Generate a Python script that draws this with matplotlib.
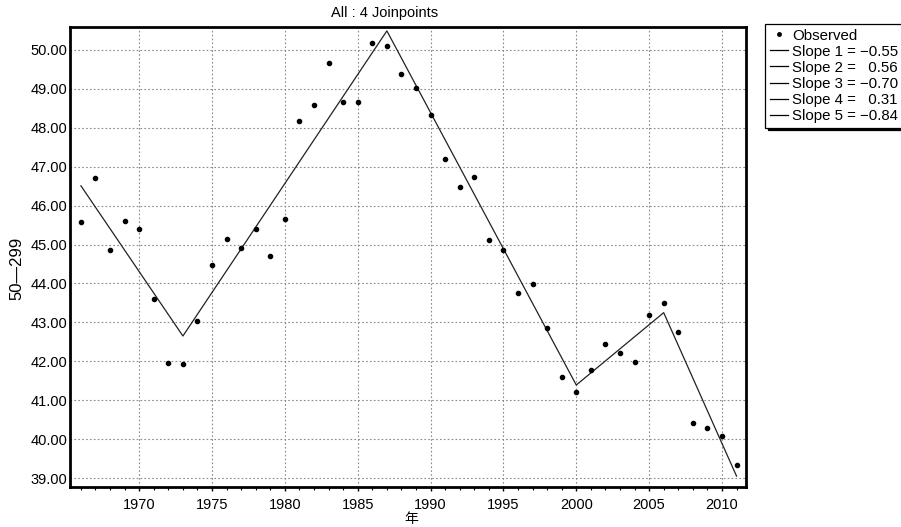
import matplotlib
matplotlib.use("Agg")
import matplotlib.pyplot as plt
from matplotlib.lines import Line2D
from matplotlib.ticker import MultipleLocator, FormatStrFormatter

plt.rcParams['font.family'] = ['Liberation Sans', 'DejaVu Sans']

# Observed values
years = list(range(1966, 2012))
observed = [45.59, 46.70, 44.86, 45.60, 45.40, 43.60, 41.95, 41.92, 43.04, 44.47,
            45.15, 44.90, 45.41, 44.71, 45.65, 48.17, 48.59, 49.66, 48.67, 48.66,
            50.19, 50.11, 49.37, 49.02, 48.33, 47.21, 46.49, 46.73, 45.11, 44.87,
            43.75, 43.98, 42.86, 41.60, 41.20, 41.78, 42.44, 42.22, 41.97, 43.20,
            43.49, 42.74, 40.41, 40.29, 40.09, 39.33]

# Joinpoint model (segment end points)
joint_years = [1966, 1973, 1987, 2000, 2006, 2011]
joint_fit = [46.51, 42.65, 50.49, 41.39, 43.25, 39.05]
slopes = [-0.55, 0.56, -0.70, 0.31, -0.84]

title = "All : 4 Joinpoints"
ylabel = "50\u2014299"
xlabel = "年"
xticks = [1970, 1975, 1980, 1985, 1990, 1995, 2000, 2005, 2010]
yticks = [39, 40, 41, 42, 43, 44, 45, 46, 47, 48, 49, 50]

fig = plt.figure(figsize=(9.01, 5.27), dpi=100)
W, H = 901, 527
ax_l, ax_t, ax_w, ax_h = 70, 27, 676, 460
ax = fig.add_axes([ax_l / W, 1 - (ax_t + ax_h) / H, ax_w / W, ax_h / H])

ax.plot(joint_years, joint_fit, color='#222222', lw=0.9, zorder=3)
ax.plot(years, observed, linestyle='none', marker='o', ms=3.0,
        color='black', zorder=4)

ax.set_xlim(1965.25, 2011.65)
ax.set_ylim(38.77, 50.59)
ax.set_xticks(xticks)
ax.xaxis.set_minor_locator(MultipleLocator(1))
ax.set_yticks(yticks)
ax.yaxis.set_major_formatter(FormatStrFormatter('%.2f'))

ax.grid(True, which='major', color='#8a8a8a', linestyle=(0, (1.5, 2)), lw=0.8)
for s in ax.spines.values():
    s.set_linewidth(2.0)
    s.set_color('black')

ax.tick_params(axis='y', length=0, pad=2, labelsize=10.5)
ax.tick_params(axis='x', which='major', length=3, width=1, pad=5, labelsize=10.5)
ax.tick_params(axis='x', which='minor', length=2.5, width=0.8)

ax.set_ylabel(ylabel, fontsize=12)
ax.yaxis.set_label_coords((17 - ax_l) / ax_w, 1 - (268 - ax_t) / ax_h)
ax.set_xlabel(xlabel, fontsize=10, family=['Noto Sans CJK SC', 'DejaVu Sans'])
ax.xaxis.set_label_coords((411 - ax_l) / ax_w, 1 - (519 - ax_t) / ax_h)
ax.xaxis.label.set_va('center')
ax.yaxis.label.set_va('center')
fig.text(385 / W, 1 - 13 / H, title, ha='center', va='center', fontsize=10.5)

handles = [Line2D([], [], linestyle='none', marker='o', ms=2.5, color='black')]
labels = ["Observed"]
for i, s in enumerate(slopes):
    handles.append(Line2D([], [], color='black', lw=0.9))
    sign = "\u2212" if s < 0 else "  "
    labels.append(f"Slope {i + 1} = {sign}{abs(s):.2f}")

leg = fig.legend(handles, labels, loc='upper left',
                 bbox_to_anchor=(765 / W, 1 - 24 / H), fontsize=10.8,
                 frameon=True, fancybox=False, handlelength=1.2,
                 handletextpad=0.3, labelspacing=0.14, borderpad=0.3,
                 borderaxespad=0, shadow={'color': 'black', 'alpha': 1})
leg.get_frame().set_edgecolor('black')
leg.get_frame().set_linewidth(0.9)

fig.savefig("out.png", dpi=100)
